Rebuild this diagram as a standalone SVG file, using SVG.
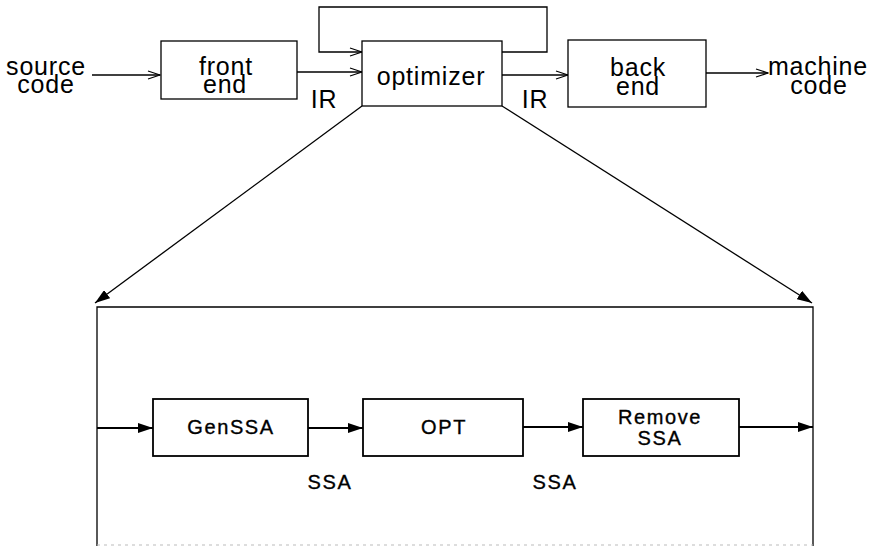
<svg xmlns="http://www.w3.org/2000/svg" width="881" height="546" viewBox="0 0 881 546">
<style>
.t{font-family:"Liberation Sans",Arial,sans-serif;font-size:25px;fill:#000;text-anchor:middle;letter-spacing:0.8px}
.s{font-family:"Liberation Sans",Arial,sans-serif;font-size:20px;fill:#000;stroke:#000;stroke-width:0.35;text-anchor:middle;letter-spacing:1.6px}
.box{fill:#fff;stroke:#000;stroke-width:1.3}
.box2{fill:#fff;stroke:#000;stroke-width:1.8}
.ln{fill:none;stroke:#000;stroke-width:1.3}
.ln2{fill:none;stroke:#000;stroke-width:1.8}
.open{marker-end:url(#open)}
.fill{marker-end:url(#filled)}
</style>
<defs>
<marker id="open" markerUnits="userSpaceOnUse" markerWidth="14" markerHeight="10" viewBox="0 0 14 10" refX="13" refY="5" orient="auto">
<path d="M1,1 L13,5 L1,9" fill="none" stroke="#000" stroke-width="1.2"/>
</marker>
<marker id="filled" markerUnits="userSpaceOnUse" markerWidth="15" markerHeight="10" viewBox="0 0 15 10" refX="15" refY="5" orient="auto">
<path d="M0,0 L15,5 L0,10 z" fill="#000"/>
</marker>
</defs>
<rect width="881" height="546" fill="#fff"/>

<g id="connectors">
<line class="ln open" x1="92" y1="75" x2="160" y2="75"/>
<line class="ln open" x1="297" y1="72" x2="362" y2="72"/>
<polyline class="ln open" points="502,52 547,52 547,7 319,7 319,52 362,52"/>
<line class="ln open" x1="502" y1="75" x2="568" y2="75"/>
<line class="ln open" x1="706" y1="73" x2="768" y2="73"/>
<line class="ln fill" x1="362" y1="106" x2="95" y2="303"/>
<line class="ln fill" x1="502" y1="106" x2="812" y2="303"/>
<line class="ln2 fill" x1="97" y1="428" x2="153" y2="428"/>
<line class="ln2 fill" x1="308" y1="428" x2="363" y2="428"/>
<line class="ln2 fill" x1="523" y1="427" x2="583" y2="427"/>
<line class="ln2 fill" x1="739" y1="427" x2="813" y2="427"/>
</g>

<g id="source">
<text class="t" x="46" y="75">source<tspan x="46" dy="18">code</tspan></text>
</g>
<g id="frontend">
<rect class="box" x="161" y="41" width="136" height="58"/>
<text class="t" x="226" y="75">front<tspan x="225" dy="18">end</tspan></text>
</g>
<g id="ir1"><text class="t" x="324" y="108">IR</text></g>
<g id="optimizer">
<rect class="box" x="362" y="41" width="140" height="65"/>
<text class="t" x="431" y="85">optimizer</text>
</g>
<g id="ir2"><text class="t" x="535" y="108">IR</text></g>
<g id="backend">
<rect class="box" x="568" y="40" width="138" height="67"/>
<text class="t" x="638" y="76">back<tspan x="638" dy="19">end</tspan></text>
</g>
<g id="machine">
<text class="t" x="818" y="75">machine<tspan x="819" dy="19">code</tspan></text>
</g>

<g id="optimizer-detail">
<polyline class="ln" points="97,546 97,307 813,307 813,546"/>
<line x1="97" y1="545" x2="813" y2="545" stroke="#bbb" stroke-width="1" stroke-dasharray="3,4"/>
</g>
<g id="genssa">
<rect class="box2" x="153" y="399" width="155" height="57"/>
<text class="s" x="231" y="434">GenSSA</text>
</g>
<g id="ssa1"><text class="s" x="330" y="489">SSA</text></g>
<g id="opt">
<rect class="box2" x="363" y="399" width="160" height="57"/>
<text class="s" x="444" y="434">OPT</text>
</g>
<g id="ssa2"><text class="s" x="555" y="489">SSA</text></g>
<g id="removessa">
<rect class="box2" x="583" y="399" width="156" height="57"/>
<text class="s" x="660" y="424">Remove<tspan x="660" dy="21">SSA</tspan></text>
</g>
</svg>
